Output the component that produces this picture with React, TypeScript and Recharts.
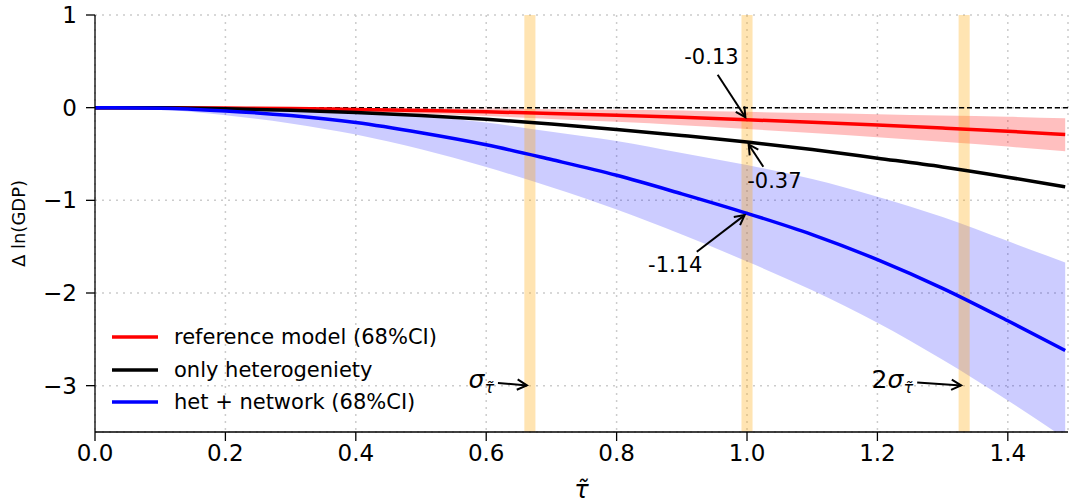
import React from 'react';
import {
  ComposedChart,
  Line,
  Area,
  XAxis,
  YAxis,
  CartesianGrid,
  ReferenceLine,
  ReferenceArea,
  ReferenceDot,
  Legend,
  Label,
} from 'recharts';

const FONT = '"DejaVu Sans", "Liberation Sans", sans-serif';

// Normalised tax shock and the GDP response of each model variant
const TAU = [0, 0.1, 0.2, 0.3, 0.4, 0.5, 0.6, 0.7, 0.8, 0.9, 1.0, 1.1, 1.2, 1.3, 1.4, 1.488];
const REF_MEAN = [0, -0.001, -0.004, -0.01, -0.019, -0.031, -0.045, -0.062, -0.081, -0.104, -0.13, -0.158, -0.188, -0.22, -0.255, -0.29];
const REF_LO = [0, -0.004, -0.013, -0.026, -0.044, -0.066, -0.091, -0.121, -0.153, -0.189, -0.23, -0.273, -0.318, -0.368, -0.42, -0.47];
const REF_HI = [0, 0, 0, -0.001, -0.003, -0.006, -0.01, -0.016, -0.022, -0.03, -0.045, -0.058, -0.07, -0.084, -0.098, -0.115];
const HET_ONLY = [0, -0.002, -0.012, -0.028, -0.052, -0.085, -0.125, -0.175, -0.235, -0.3, -0.37, -0.452, -0.545, -0.64, -0.75, -0.855];
const NET_MEAN = [0, -0.005, -0.035, -0.085, -0.16, -0.27, -0.4, -0.56, -0.73, -0.93, -1.14, -1.37, -1.64, -1.95, -2.3, -2.62];
const NET_LO = [0, -0.021, -0.082, -0.17, -0.29, -0.45, -0.64, -0.86, -1.1, -1.37, -1.66, -1.97, -2.32, -2.72, -3.16, -3.57];
const NET_HI = [0, 0, -0.003, -0.01, -0.035, -0.09, -0.16, -0.26, -0.36, -0.49, -0.62, -0.77, -0.96, -1.18, -1.44, -1.67];

const X_TICKS = [0, 0.2, 0.4, 0.6, 0.8, 1.0, 1.2, 1.4];
const Y_TICKS = [-3, -2, -1, 0, 1];

// One and two standard deviations of the shock, and the unit shock
const MARKERS = [0.667, 1.0, 1.333];
const MARKER_HALF_WIDTH = 0.0085;

const SERIES_NAMES = ['reference model (68%CI)', 'only heterogeniety', 'het + network (68%CI)'];
const SERIES_COLORS = ['#ff0000', '#000000', '#0000ff'];

// Values read at the unit shock
const VALUE_NOTES = [
  { label: '-0.13', tx: 0.9455, ty: 0.545, fromX: 0.955, fromY: 0.356, atX: 1.0, atY: -0.13 },
  { label: '-0.37', tx: 1.042, ty: -0.788, fromX: 1.025, fromY: -0.637, atX: 1.0, atY: -0.37 },
  { label: '-1.14', tx: 0.89, ty: -1.7, fromX: 0.923, fromY: -1.555, atX: 1.0, atY: -1.14 },
];

const SIGMA_NOTES = [
  { prefix: '', tx: 0.612, ty: -3.03, fromX: 0.618, fromY: -2.97, atX: 0.667, atY: -3.0 },
  { prefix: '2', tx: 1.2546, ty: -3.03, fromX: 1.261, fromY: -2.965, atX: 1.333, atY: -3.0 },
];

const rows = TAU.map((t, i) => ({
  tau: t,
  ref: REF_MEAN[i],
  refBand: [REF_LO[i], REF_HI[i]],
  het: HET_ONLY[i],
  net: NET_MEAN[i],
  netBand: [NET_LO[i], NET_HI[i]],
}));

const fmtY = (v: number) => (v < 0 ? `\u2212${Math.abs(v)}` : `${v}`);
const fmtX = (v: number) => v.toFixed(1);

// Straight arrow with an open head at its end point
const Arrow = (p: any) => {
  const { x1, y1, x2, y2 } = p;
  if ([x1, y1, x2, y2].some((v) => typeof v !== 'number' || isNaN(v))) return null;
  const dx = x2 - x1;
  const dy = y2 - y1;
  const len = Math.sqrt(dx * dx + dy * dy) || 1;
  const ux = dx / len;
  const uy = dy / len;
  const shrink = 3;
  const ex = x2 - ux * shrink;
  const ey = y2 - uy * shrink;
  const head = 11;
  const ang = (28 * Math.PI) / 180;
  const rot = (a: number) => ({
    x: ex - head * (ux * Math.cos(a) - uy * Math.sin(a)),
    y: ey - head * (ux * Math.sin(a) + uy * Math.cos(a)),
  });
  const a = rot(ang);
  const b = rot(-ang);
  return (
    <g>
      <line x1={x1} y1={y1} x2={ex} y2={ey} stroke="#000" strokeWidth={2} />
      <polyline
        points={`${a.x},${a.y} ${ex},${ey} ${b.x},${b.y}`}
        fill="none"
        stroke="#000"
        strokeWidth={2}
      />
    </g>
  );
};

const valueText = (label: string) => (p: any) => (
  <text
    x={p.cx}
    y={p.cy}
    textAnchor="middle"
    dominantBaseline="central"
    fontFamily={FONT}
    fontSize={21}
    fill="#000"
  >
    {label}
  </text>
);

const sigmaText = (prefix: string) => (p: any) => (
  <text x={p.cx} y={p.cy} textAnchor="end" fontFamily={FONT} fontSize={25} fill="#000">
    {prefix}
    <tspan fontStyle="italic">σ</tspan>
    <tspan fontStyle="italic" fontSize={16} dy={5}>
      τ̃
    </tspan>
  </text>
);

const YTitle = (p: any) => {
  const vb = p.viewBox || {};
  const cx = 18;
  const cy = vb.y + vb.height / 2;
  return (
    <text
      x={cx}
      y={cy}
      transform={`rotate(-90 ${cx} ${cy})`}
      textAnchor="middle"
      dominantBaseline="central"
      fontFamily={FONT}
      fontSize={18}
      fill="#000"
    >
      Δ ln(GDP)
    </text>
  );
};

const XTitle = (p: any) => {
  const vb = p.viewBox || {};
  return (
    <text
      x={vb.x + vb.width / 2}
      y={vb.y + 66}
      textAnchor="middle"
      fontFamily={FONT}
      fontSize={24}
      fontStyle="italic"
      fill="#000"
    >
      τ̃
    </text>
  );
};

const LegendBox = (props: any) => {
  const payload: any[] = props.payload || [];
  const entries = SERIES_NAMES.map((name, i) => {
    const hit = payload.find((e) => e.value === name);
    return { name, color: hit?.color || SERIES_COLORS[i] };
  });
  return (
    <div style={{ fontFamily: FONT, fontSize: 21, color: '#000' }}>
      {entries.map((e) => (
        <div key={e.name} style={{ display: 'flex', alignItems: 'center', height: 32.5, whiteSpace: 'nowrap' }}>
          <svg width={46} height={10} style={{ marginRight: 16 }}>
            <line x1={0} y1={5} x2={46} y2={5} stroke={e.color} strokeWidth={3.5} />
          </svg>
          <span>{e.name}</span>
        </div>
      ))}
    </div>
  );
};

export default function App() {
  return (
    <div style={{ position: 'fixed', left: 0, top: 0, background: '#fff' }}>
      <ComposedChart
        width={1069}
        height={504}
        data={rows}
        margin={{ top: 15, right: 1, bottom: 32, left: 35 }}
      >
        <CartesianGrid stroke="#cccccc" strokeWidth={1.5} strokeDasharray="2 5" />
        <XAxis
          dataKey="tau"
          type="number"
          domain={[0, 1.4923]}
          ticks={X_TICKS}
          tickFormatter={fmtX}
          allowDataOverflow
          height={40}
          stroke="#000"
          strokeWidth={1.3}
          tickSize={9}
          tickMargin={4}
          tick={{ fill: '#000', fontSize: 23, fontFamily: FONT }}
        >
          <Label content={XTitle} />
        </XAxis>
        <YAxis
          type="number"
          domain={[-3.5, 1]}
          ticks={Y_TICKS}
          tickFormatter={fmtY}
          allowDataOverflow
          width={60}
          stroke="#000"
          strokeWidth={1.3}
          tickSize={9}
          tickMargin={9}
          tick={{ fill: '#000', fontSize: 23, fontFamily: FONT }}
        >
          <Label content={YTitle} />
        </YAxis>

        <Area
          dataKey="netBand"
          type="monotone"
          stroke="none"
          fill="#0000ff"
          fillOpacity={0.2}
          legendType="none"
          isAnimationActive={false}
          activeDot={false}
          zIndex={100}
        />
        <Area
          dataKey="refBand"
          type="monotone"
          stroke="none"
          fill="#ff0000"
          fillOpacity={0.25}
          legendType="none"
          isAnimationActive={false}
          activeDot={false}
          zIndex={100}
        />

        {MARKERS.map((m) => (
          <ReferenceArea
            key={m}
            x1={m - MARKER_HALF_WIDTH}
            x2={m + MARKER_HALF_WIDTH}
            fill="#ffa500"
            fillOpacity={0.3}
            stroke="none"
            zIndex={150}
          />
        ))}

        <ReferenceLine y={0} stroke="#000" strokeWidth={1.5} strokeDasharray="5 3" zIndex={200} />

        <Line
          dataKey="ref"
          name={SERIES_NAMES[0]}
          type="monotone"
          stroke={SERIES_COLORS[0]}
          strokeWidth={3.5}
          dot={false}
          activeDot={false}
          isAnimationActive={false}
          zIndex={400}
        />
        <Line
          dataKey="het"
          name={SERIES_NAMES[1]}
          type="monotone"
          stroke={SERIES_COLORS[1]}
          strokeWidth={3.5}
          dot={false}
          activeDot={false}
          isAnimationActive={false}
          zIndex={400}
        />
        <Line
          dataKey="net"
          name={SERIES_NAMES[2]}
          type="monotone"
          stroke={SERIES_COLORS[2]}
          strokeWidth={3.5}
          dot={false}
          activeDot={false}
          isAnimationActive={false}
          zIndex={400}
        />

        {VALUE_NOTES.map((n) => (
          <ReferenceLine
            key={`a${n.label}`}
            segment={[
              { x: n.fromX, y: n.fromY },
              { x: n.atX, y: n.atY },
            ]}
            shape={Arrow}
            zIndex={600}
          />
        ))}
        {VALUE_NOTES.map((n) => (
          <ReferenceDot
            key={`t${n.label}`}
            x={n.tx}
            y={n.ty}
            r={1}
            shape={valueText(n.label)}
            zIndex={600}
          />
        ))}
        {SIGMA_NOTES.map((n) => (
          <ReferenceLine
            key={`sa${n.prefix}`}
            segment={[
              { x: n.fromX, y: n.fromY },
              { x: n.atX, y: n.atY },
            ]}
            shape={Arrow}
            zIndex={600}
          />
        ))}
        {SIGMA_NOTES.map((n) => (
          <ReferenceDot
            key={`st${n.prefix}`}
            x={n.tx}
            y={n.ty}
            r={1}
            shape={sigmaText(n.prefix)}
            zIndex={600}
          />
        ))}

        <Legend
          layout="horizontal"
          verticalAlign="middle"
          align="center"
          content={LegendBox}
          wrapperStyle={{ position: 'absolute', left: 112, top: 321, width: 'auto', height: 'auto' }}
        />
      </ComposedChart>
    </div>
  );
}
